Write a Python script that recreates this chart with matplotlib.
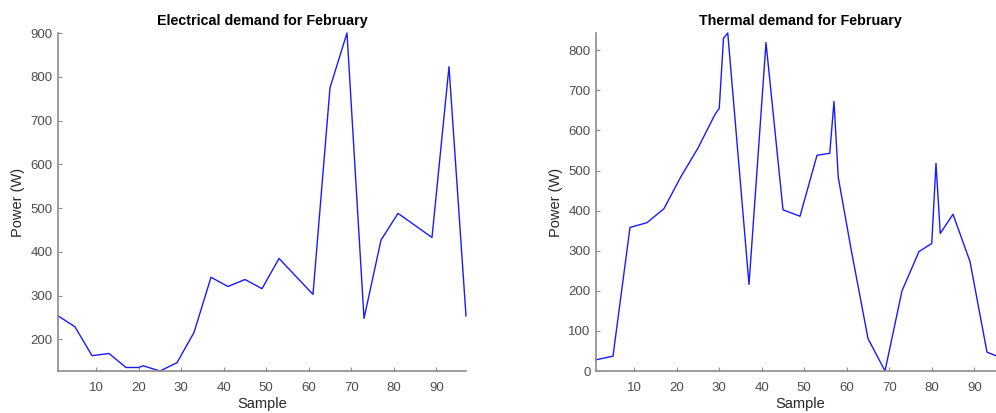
import matplotlib
matplotlib.use("Agg")
import matplotlib.pyplot as plt

plt.rcParams['font.family'] = ['Liberation Sans', 'DejaVu Sans']

# Electrical demand (sample, W)
elec_x = [1, 5, 9, 13, 17, 20, 21, 25, 29, 33, 37, 41, 45, 49, 53, 61, 65, 69, 73, 77, 81, 89, 93, 97]
elec_y = [254, 229, 163, 168, 136, 136, 140, 128, 147, 216, 342, 321, 337, 316, 385, 303, 775, 900, 248, 427, 488, 433, 823, 254]

# Thermal demand (sample, W)
therm_x = [1, 5, 9, 13, 17, 21, 25, 29, 30, 31, 32, 37, 41, 45, 49, 53, 56, 57, 58, 61, 65, 69, 73, 77, 80, 81, 82, 85, 89, 93, 97]
therm_y = [28, 37, 358, 370, 405, 485, 556, 640, 655, 830, 843, 216, 819, 402, 386, 538, 543, 672, 483, 305, 81, 0, 200, 298, 318, 518, 343, 391, 273, 47, 30]

xticks = [10, 20, 30, 40, 50, 60, 70, 80, 90]
elec_yticks = [200, 300, 400, 500, 600, 700, 800, 900]
therm_yticks = [0, 100, 200, 300, 400, 500, 600, 700, 800]

W, H = 996, 413
fig = plt.figure(figsize=(W / 100, H / 100), dpi=100)

axc = '#8c8c8c'
txc = '#4d4d4d'


def style(ax, title, yticks, ylim):
    ax.set_xlim(1, 97)
    ax.set_ylim(*ylim)
    ax.set_xticks(xticks)
    ax.set_yticks(yticks)
    for s in ['top', 'right']:
        ax.spines[s].set_visible(False)
    for s in ['left', 'bottom']:
        ax.spines[s].set_color(axc)
        ax.spines[s].set_linewidth(1.2)
    ax.tick_params(direction='in', length=3, width=0.8, color=axc,
                   labelcolor=txc, labelsize=9.5, pad=4)
    ax.tick_params(axis='x', pad=8)
    ax.set_title(title, fontsize=10.3, fontweight='bold', color='black', pad=6)
    ax.set_xlabel('Sample', fontsize=10.5, color='#262626', labelpad=2)
    ax.set_ylabel('Power (W)', fontsize=10.5, color='#262626', labelpad=4)


ax1 = fig.add_axes([58 / W, (H - 371) / H, 408 / W, 338 / H])
ax1.plot(elec_x, elec_y, color='#1a1aff', lw=1.0, clip_on=False)
style(ax1, 'Electrical demand for February', elec_yticks, (128, 900))

ax2 = fig.add_axes([596 / W, (H - 371) / H, 408 / W, 338 / H])
ax2.plot(therm_x, therm_y, color='#1a1aff', lw=1.0, clip_on=False)
style(ax2, 'Thermal demand for February', therm_yticks, (0, 843))

fig.savefig('out.png', dpi=100)
